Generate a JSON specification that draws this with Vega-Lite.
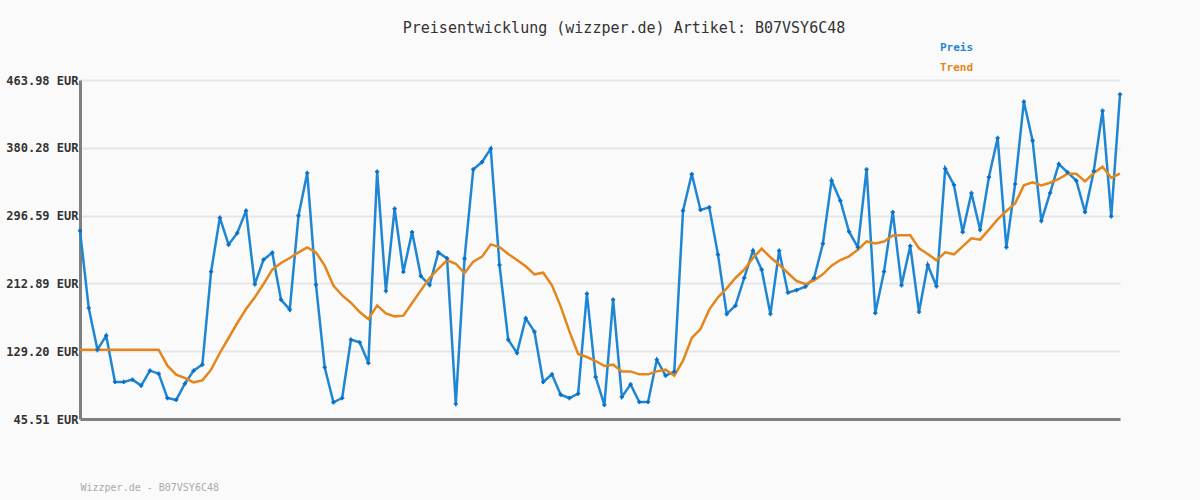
{
  "$schema": "https://vega.github.io/schema/vega-lite/v6.json",
  "width": 1040,
  "height": 339,
  "autosize": {"type": "none"},
  "padding": {"left": 80, "top": 80, "right": 80, "bottom": 81},
  "background": "#fafafa",
  "title": {
    "text": "Preisentwicklung (wizzper.de) Artikel: B07VSY6C48",
    "font": "DejaVu Sans Mono",
    "fontSize": 15,
    "fontWeight": "normal",
    "color": "#333333",
    "anchor": "middle",
    "dx": 24,
    "offset": 6
  },
  "config": {
    "view": {"stroke": null},
    "axis": {"ticks": false}
  },
  "data": {
    "values": [
      {"i":0,"Preis":278.0,"Trend":131.1},{"i":1,"Preis":182.5,"Trend":131.1},{"i":2,"Preis":131.1,"Trend":131.1},{"i":3,"Preis":148.4,"Trend":131.1},{"i":4,"Preis":91.2,"Trend":131.1},
      {"i":5,"Preis":91.2,"Trend":131.1},{"i":6,"Preis":94.1,"Trend":131.1},{"i":7,"Preis":86.7,"Trend":131.1},{"i":8,"Preis":105.2,"Trend":131.1},{"i":9,"Preis":101.5,"Trend":131.1},
      {"i":10,"Preis":71.4,"Trend":111.3},{"i":11,"Preis":69.0,"Trend":100.2},{"i":12,"Preis":89.1,"Trend":96.1},{"i":13,"Preis":105.2,"Trend":90.8},{"i":14,"Preis":112.6,"Trend":93.2},
      {"i":15,"Preis":227.4,"Trend":106.4},{"i":16,"Preis":294.0,"Trend":127.0},{"i":17,"Preis":260.7,"Trend":145.5},{"i":18,"Preis":275.1,"Trend":164.0},{"i":19,"Preis":302.7,"Trend":181.3},
      {"i":20,"Preis":211.7,"Trend":195.7},{"i":21,"Preis":242.2,"Trend":212.1},{"i":22,"Preis":250.8,"Trend":229.8},{"i":23,"Preis":192.8,"Trend":238.1},{"i":24,"Preis":180.5,"Trend":244.2},
      {"i":25,"Preis":296.5,"Trend":251.2},{"i":26,"Preis":349.2,"Trend":257.4},{"i":27,"Preis":211.3,"Trend":251.2},{"i":28,"Preis":109.3,"Trend":234.8},{"i":29,"Preis":66.1,"Trend":210.1},
      {"i":30,"Preis":71.4,"Trend":198.0},{"i":31,"Preis":143.4,"Trend":189.0},{"i":32,"Preis":140.1,"Trend":177.6},{"i":33,"Preis":114.6,"Trend":168.9},{"i":34,"Preis":350.8,"Trend":185.8},
      {"i":35,"Preis":203.5,"Trend":175.9},{"i":36,"Preis":305.1,"Trend":172.2},{"i":37,"Preis":227.0,"Trend":173.1},{"i":38,"Preis":276.3,"Trend":188.7},{"i":39,"Preis":222.0,"Trend":204.3},
      {"i":40,"Preis":210.9,"Trend":219.6},{"i":41,"Preis":251.2,"Trend":230.7},{"i":42,"Preis":243.8,"Trend":241.4},{"i":43,"Preis":64.0,"Trend":237.2},{"i":44,"Preis":243.4,"Trend":225.7},
      {"i":45,"Preis":353.7,"Trend":239.7},{"i":46,"Preis":362.7,"Trend":245.9},{"i":47,"Preis":379.2,"Trend":261.1},{"i":48,"Preis":235.6,"Trend":257.8},{"i":49,"Preis":143.4,"Trend":249.2},
      {"i":50,"Preis":127.0,"Trend":241.8},{"i":51,"Preis":169.8,"Trend":234.0},{"i":52,"Preis":153.3,"Trend":224.1},{"i":53,"Preis":91.2,"Trend":226.1},{"i":54,"Preis":100.6,"Trend":210.5},
      {"i":55,"Preis":75.5,"Trend":184.6},{"i":56,"Preis":71.4,"Trend":153.7},{"i":57,"Preis":76.8,"Trend":125.7},{"i":58,"Preis":200.2,"Trend":122.0},{"i":59,"Preis":97.3,"Trend":117.1},
      {"i":60,"Preis":62.8,"Trend":110.9},{"i":61,"Preis":192.8,"Trend":112.6},{"i":62,"Preis":72.7,"Trend":104.3},{"i":63,"Preis":88.3,"Trend":104.3},{"i":64,"Preis":66.5,"Trend":100.6},
      {"i":65,"Preis":66.5,"Trend":100.6},{"i":66,"Preis":118.7,"Trend":104.3},{"i":67,"Preis":99.0,"Trend":106.4},{"i":68,"Preis":103.9,"Trend":99.0},{"i":69,"Preis":302.7,"Trend":117.5},
      {"i":70,"Preis":347.9,"Trend":145.5},{"i":71,"Preis":303.5,"Trend":156.6},{"i":72,"Preis":306.8,"Trend":180.5},{"i":73,"Preis":248.4,"Trend":195.7},{"i":74,"Preis":175.1,"Trend":206.8},
      {"i":75,"Preis":185.4,"Trend":219.6},{"i":76,"Preis":219.6,"Trend":229.8},{"i":77,"Preis":253.3,"Trend":244.2},{"i":78,"Preis":229.8,"Trend":255.8},{"i":79,"Preis":175.1,"Trend":245.1},
      {"i":80,"Preis":253.3,"Trend":236.0},{"i":81,"Preis":201.4,"Trend":225.7},{"i":82,"Preis":204.7,"Trend":215.8},{"i":83,"Preis":208.9,"Trend":212.1},{"i":84,"Preis":219.6,"Trend":216.7},
      {"i":85,"Preis":261.9,"Trend":224.1},{"i":86,"Preis":339.7,"Trend":234.8},{"i":87,"Preis":315.0,"Trend":241.8},{"i":88,"Preis":276.7,"Trend":246.3},{"i":89,"Preis":257.4,"Trend":254.5},
      {"i":90,"Preis":353.7,"Trend":264.8},{"i":91,"Preis":176.3,"Trend":262.3},{"i":92,"Preis":227.4,"Trend":264.6},{"i":93,"Preis":301.0,"Trend":272.0},{"i":94,"Preis":210.5,"Trend":272.2},
      {"i":95,"Preis":259.1,"Trend":272.2},{"i":96,"Preis":177.6,"Trend":256.2},{"i":97,"Preis":235.6,"Trend":249.2},{"i":98,"Preis":209.3,"Trend":241.4},{"i":99,"Preis":354.5,"Trend":251.2},
      {"i":100,"Preis":334.4,"Trend":248.8},{"i":101,"Preis":276.3,"Trend":258.6},{"i":102,"Preis":324.5,"Trend":268.5},{"i":103,"Preis":278.8,"Trend":266.9},{"i":104,"Preis":344.2,"Trend":279.2},
      {"i":105,"Preis":392.4,"Trend":292.0},{"i":106,"Preis":257.4,"Trend":302.3},{"i":107,"Preis":335.6,"Trend":311.7},{"i":108,"Preis":437.2,"Trend":333.9},{"i":109,"Preis":389.1,"Trend":337.6},
      {"i":110,"Preis":289.9,"Trend":333.9},{"i":111,"Preis":324.5,"Trend":337.2},{"i":112,"Preis":360.3,"Trend":341.8},{"i":113,"Preis":350.0,"Trend":348.3},{"i":114,"Preis":339.7,"Trend":348.3},
      {"i":115,"Preis":301.0,"Trend":338.9},{"i":116,"Preis":351.6,"Trend":349.2},{"i":117,"Preis":426.1,"Trend":357.0},{"i":118,"Preis":295.7,"Trend":343.4},{"i":119,"Preis":446.3,"Trend":348.3}
    ]
  },
  "transform": [{"fold": ["Preis", "Trend"], "as": ["serie", "wert"]}],
  "encoding": {
    "x": {
      "field": "i",
      "type": "quantitative",
      "scale": {"domain": [0, 119], "nice": false, "zero": false},
      "axis": {
        "labels": false,
        "grid": false,
        "domainColor": "#808080",
        "domainWidth": 3,
        "title": "Wizzper.de - B07VSY6C48",
        "titleAnchor": "start",
        "titleAlign": "left",
        "titleFont": "DejaVu Sans Mono",
        "titleFontSize": 10,
        "titleFontWeight": "normal",
        "titleColor": "#aaaaaa",
        "titlePadding": 63
      }
    },
    "y": {
      "field": "wert",
      "type": "quantitative",
      "scale": {"domain": [45.51, 463.98], "nice": false, "zero": false},
      "axis": {
        "values": [45.51, 129.2, 212.89, 296.59, 380.28, 463.98],
        "labelExpr": "format(datum.value, '.2f') + ' EUR'",
        "labelFont": "DejaVu Sans Mono",
        "labelFontSize": 12,
        "labelFontWeight": "bold",
        "labelColor": "#333333",
        "labelPadding": 2,
        "gridColor": "#e6e6e6",
        "gridWidth": 2,
        "domainColor": "#808080",
        "domainWidth": 3,
        "title": null
      }
    }
  },
  "layer": [
    {
      "mark": {"type": "line", "strokeWidth": 2.5, "interpolate": "linear"},
      "encoding": {
        "color": {
          "field": "serie",
          "type": "nominal",
          "scale": {"domain": ["Preis", "Trend"], "range": ["#1f86d3", "#e3861c"]},
          "legend": {
            "title": null,
            "orient": "none",
            "legendX": 849,
            "legendY": -38,
            "symbolSize": 0,
            "symbolStrokeWidth": 0,
            "symbolOpacity": 0,
            "labelOffset": 0,
            "labelFont": "DejaVu Sans Mono",
            "labelFontSize": 11,
            "labelFontWeight": "bold",
            "rowPadding": 8,
            "encode": {
              "labels": {"update": {"fill": {"scale": "color", "field": "value"}}}
            }
          }
        }
      }
    },
    {
      "transform": [{"filter": "datum.serie === 'Preis'"}],
      "mark": {"type": "point", "shape": "cross", "filled": true, "size": 18, "color": "#0a6fc2", "opacity": 1}
    }
  ]
}
